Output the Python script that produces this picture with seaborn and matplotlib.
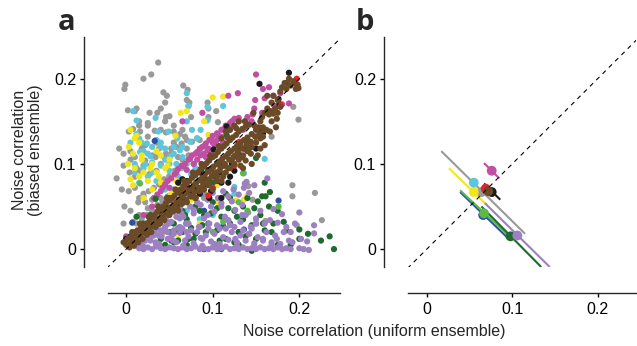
import numpy as np
import pandas as pd
import seaborn as sns
import matplotlib.pyplot as plt

# colours of the recording groups
colors = {
    "gray": "#999999", "cyan": "#5ec6dc", "yellow": "#f2e61a", "magenta": "#c04ea2",
    "blue": "#2f4fa6", "dkgreen": "#1f6b2f", "ltgreen": "#5cb847", "purple": "#9c80c1",
    "black": "#1b1b1b", "red": "#e8222b", "brown": "#6b4a28",
}

# ---- panel a: pair-wise noise correlations (uniform x, biased y) ----
gray_x = [0.037, 0.029, 0.020, -0.001, -0.002, 0.066, 0.071, 0.043, 0.047, 0.070, 0.073, 0.072, 0.045, 0.040,
          0.036, 0.012, 0.010, 0.002, 0.027, 0.046, 0.050, 0.094, 0.095, 0.003, 0.008, 0.016, 0.025, 0.033,
          0.040, 0.046, 0.055, 0.062, 0.068, 0.070, -0.008, -0.003, 0.005, 0.010, 0.018, 0.022, 0.030, 0.038,
          0.044, 0.052, 0.060, 0.065, 0.072, 0.078, 0.085, -0.003, 0.004, 0.012, 0.020, 0.027, 0.035, 0.045,
          0.050, 0.058, -0.011, -0.005, 0.003, 0.010, 0.015, 0.020, 0.030, 0.040, 0.048, 0.055, 0.062, -0.002,
          0.005, 0.015, 0.025, 0.032, 0.038, -0.003, 0.008, 0.020, 0.030, 0.040, 0.168, 0.193, 0.199, 0.192,
          0.192, 0.218, 0.226, 0.197, 0.161, 0.146, 0.141, 0.141, 0.104, 0.106, 0.130, 0.110, 0.090, 0.150,
          0.015, 0.025, 0.035, 0.055, 0.064, 0.022, 0.030]
gray_y = [0.219, 0.205, 0.200, 0.193, 0.188, 0.192, 0.187, 0.184, 0.180, 0.175, 0.172, 0.168, 0.172, 0.165,
          0.160, 0.165, 0.162, 0.163, 0.160, 0.155, 0.156, 0.172, 0.165, 0.138, 0.141, 0.138, 0.132, 0.139,
          0.140, 0.137, 0.138, 0.135, 0.132, 0.128, 0.118, 0.112, 0.115, 0.108, 0.118, 0.122, 0.110, 0.118,
          0.108, 0.112, 0.108, 0.105, 0.110, 0.100, 0.115, 0.098, 0.090, 0.095, 0.098, 0.088, 0.092, 0.080,
          0.085, 0.092, 0.083, 0.070, 0.068, 0.072, 0.060, 0.065, 0.058, 0.060, 0.062, 0.070, 0.078, 0.050,
          0.045, 0.040, 0.048, 0.042, 0.050, 0.030, 0.032, 0.025, 0.030, 0.035, 0.132, 0.167, 0.152, 0.075,
          0.062, 0.066, 0.034, 0.028, 0.033, 0.058, 0.043, 0.074, 0.162, 0.149, 0.120, 0.130, 0.060, 0.035,
          0.150, 0.145, 0.125, 0.125, 0.120, 0.055, 0.020]
gray2_x = [0.012, 0.018, 0.024, 0.030, 0.036, 0.042, 0.048, 0.054, 0.014, 0.020, 0.026, 0.032, 0.038, 0.044,
           0.050, 0.056, 0.062, 0.010, 0.016, 0.022, 0.028, 0.034, 0.040, 0.046, 0.052, 0.058, 0.064, 0.070,
           0.076, 0.082, 0.005, 0.025, 0.045, 0.065, 0.085, 0.015, 0.035, 0.055, 0.075, 0.095]
gray2_y = [0.030, 0.036, 0.040, 0.045, 0.052, 0.056, 0.060, 0.066, 0.055, 0.062, 0.068, 0.072, 0.076, 0.082,
           0.086, 0.092, 0.096, 0.085, 0.092, 0.104, 0.098, 0.108, 0.100, 0.112, 0.118, 0.120, 0.124, 0.118,
           0.126, 0.130, 0.105, 0.148, 0.150, 0.140, 0.128, 0.145, 0.128, 0.145, 0.155, 0.155]

cyan_x = [0.008, 0.012, 0.012, 0.018, 0.034, 0.037, 0.049, 0.070, 0.072, 0.070, 0.086, 0.094, 0.094, 0.059,
          0.074, 0.024, 0.045, 0.062, 0.016, 0.028, 0.051, 0.008, 0.010, 0.020, 0.030, 0.040, 0.050, 0.058,
          0.065, 0.025, 0.035, 0.045, 0.055, 0.062, 0.070, 0.075, 0.080, 0.015, 0.160, 0.136, 0.125, 0.125,
          0.112, 0.085, 0.100, 0.050, 0.040, 0.030, 0.022, 0.055, 0.065]
cyan_y = [0.162, 0.151, 0.135, 0.125, 0.154, 0.138, 0.138, 0.183, 0.168, 0.150, 0.140, 0.167, 0.151, 0.130,
          0.126, 0.124, 0.118, 0.116, 0.114, 0.109, 0.109, 0.111, 0.100, 0.095, 0.102, 0.098, 0.092, 0.100,
          0.095, 0.085, 0.080, 0.070, 0.060, 0.050, 0.045, 0.088, 0.082, 0.078, 0.106, 0.089, 0.073, 0.065,
          0.168, 0.035, 0.040, 0.030, 0.125, 0.120, 0.100, 0.112, 0.120]
cyan2_x = [0.005, 0.015, 0.025, 0.035, 0.045, 0.055, 0.065, 0.010, 0.020, 0.030, 0.040, 0.050, 0.060, 0.070,
           0.080, 0.090, 0.100, 0.082, 0.076]
cyan2_y = [0.125, 0.130, 0.112, 0.128, 0.105, 0.120, 0.108, 0.090, 0.115, 0.090, 0.120, 0.100, 0.085, 0.100,
           0.095, 0.090, 0.085, 0.130, 0.140]

yellow_x = [0.005, 0.012, 0.003, 0.008, 0.002, 0.010, 0.015, 0.005, 0.020, 0.025, 0.030, 0.035, 0.040, 0.045,
            0.050, 0.055, 0.060, 0.065, 0.070, 0.063, 0.100, 0.105, 0.085, 0.080, 0.090, 0.095, 0.020, 0.030,
            0.040, 0.018, 0.010, 0.057, 0.075, 0.112, 0.127, 0.140, 0.136, 0.106, 0.045, 0.060, 0.085]
yellow_y = [0.140, 0.133, 0.120, 0.112, 0.100, 0.095, 0.085, 0.082, 0.090, 0.080, 0.100, 0.090, 0.078, 0.095,
            0.105, 0.088, 0.070, 0.080, 0.162, 0.160, 0.178, 0.075, 0.065, 0.060, 0.150, 0.134, 0.060, 0.070,
            0.110, 0.105, 0.130, 0.133, 0.058, 0.179, 0.057, 0.063, 0.058, 0.055, 0.020, 0.012, 0.030]
yellow2_x = [0.008, 0.018, 0.028, 0.038, 0.048, 0.058, 0.068, 0.078, 0.015, 0.035, 0.052, 0.072, 0.090]
yellow2_y = [0.075, 0.110, 0.095, 0.085, 0.098, 0.080, 0.095, 0.072, 0.125, 0.115, 0.065, 0.105, 0.085]

magenta_x = [0.150, 0.129, 0.158, 0.165, 0.178, 0.149, 0.188, 0.172, 0.157, 0.148, 0.140, 0.130, 0.125, 0.120,
             0.115, 0.110, 0.105, 0.100, 0.096, 0.092, 0.088, 0.085, 0.080, 0.076, 0.072, 0.068, 0.064, 0.060,
             0.056, 0.052, 0.048, 0.045, 0.042, 0.040, 0.036, 0.032, 0.100, 0.105, 0.110, 0.118, 0.123, 0.095,
             0.090, 0.082, 0.070, 0.050, 0.030, 0.020, 0.010, 0.000, 0.135, 0.145, 0.165, 0.170, 0.180, 0.160,
             0.118, 0.088, 0.065, 0.112, 0.108, 0.098, 0.092]
magenta_y = [0.205, 0.183, 0.188, 0.190, 0.183, 0.175, 0.171, 0.168, 0.160, 0.165, 0.155, 0.150, 0.153, 0.148,
             0.145, 0.140, 0.136, 0.133, 0.128, 0.124, 0.120, 0.118, 0.112, 0.110, 0.105, 0.100, 0.098, 0.094,
             0.088, 0.083, 0.080, 0.076, 0.072, 0.068, 0.064, 0.060, 0.125, 0.128, 0.132, 0.140, 0.145, 0.118,
             0.112, 0.105, 0.093, 0.072, 0.050, 0.040, 0.020, 0.015, 0.140, 0.150, 0.160, 0.180, 0.170, 0.177,
             0.180, 0.160, 0.150, 0.125, 0.120, 0.112, 0.108]
magenta2_x = [0.058, 0.066, 0.074, 0.082, 0.090, 0.098, 0.106, 0.114, 0.122, 0.130, 0.138, 0.146, 0.078, 0.086,
              0.094, 0.102]
magenta2_y = [0.090, 0.097, 0.106, 0.114, 0.121, 0.128, 0.134, 0.142, 0.150, 0.154, 0.150, 0.158, 0.100, 0.110,
              0.116, 0.122]

blue_x = [0.033, 0.007, 0.176, 0.136, 0.112, 0.070, 0.090, 0.130]
blue_y = [0.127, 0.031, 0.057, 0.023, 0.027, 0.070, 0.045, 0.020]

dkgreen_x = [0.034, 0.045, 0.030, 0.025, 0.040, 0.050, 0.055, 0.060, 0.070, 0.075, 0.080, 0.085, 0.090, 0.095,
             0.100, 0.105, 0.110, 0.115, 0.120, 0.125, 0.130, 0.135, 0.140, 0.145, 0.150, 0.155, 0.160, 0.165,
             0.170, 0.175, 0.185, 0.190, 0.200, 0.210, 0.240, 0.157, 0.152, 0.166, 0.161, 0.120, 0.115, 0.100,
             0.093, 0.150, 0.116, 0.160, 0.065, 0.060, 0.050, 0.040, 0.035, 0.012, 0.020, 0.070, 0.090, 0.110,
             0.130, 0.145, 0.080, 0.105, 0.125, 0.135, 0.182, 0.200, 0.225, 0.235, 0.175, 0.065, 0.055, 0.045]
dkgreen_y = [0.059, 0.043, 0.025, 0.015, 0.012, 0.020, 0.030, 0.010, 0.035, 0.025, 0.018, 0.045, 0.040, 0.030,
             0.055, 0.022, 0.038, 0.012, 0.030, 0.045, 0.020, 0.035, 0.060, 0.028, 0.012, 0.040, 0.022, 0.050,
             0.030, 0.005, 0.022, 0.005, 0.012, 0.018, 0.000, 0.062, 0.056, 0.067, 0.062, 0.060, 0.065, 0.078,
             0.080, 0.107, 0.134, 0.078, 0.045, 0.055, 0.060, 0.035, 0.005, 0.038, 0.030, 0.005, 0.000, 0.000,
             0.005, -0.002, 0.050, 0.048, 0.008, 0.050, 0.032, 0.023, 0.010, 0.015, 0.045, 0.020, 0.008, 0.005]
dkgreen2_x = [0.028, 0.038, 0.048, 0.058, 0.068, 0.078, 0.088, 0.098, 0.108, 0.118, 0.128, 0.138, 0.148, 0.158,
              0.168, 0.052, 0.072, 0.092]
dkgreen2_y = [0.040, 0.030, 0.048, 0.022, 0.040, 0.012, 0.028, 0.042, 0.010, 0.048, 0.038, 0.015, 0.048, 0.030,
              0.020, 0.010, 0.012, 0.020]

ltgreen_x = [0.016, 0.090, 0.112, 0.130, 0.176, 0.150, 0.070, 0.100, 0.135, 0.140]
ltgreen_y = [0.077, 0.065, 0.032, 0.055, 0.050, 0.030, 0.030, 0.020, 0.089, 0.045]

purple_x = [0.015, 0.020, 0.025, 0.030, 0.035, 0.040, 0.045, 0.050, 0.055, 0.060, 0.065, 0.070, 0.075, 0.080,
            0.085, 0.090, 0.095, 0.100, 0.105, 0.110, 0.115, 0.120, 0.125, 0.130, 0.135, 0.140, 0.145, 0.150,
            0.155, 0.160, 0.165, 0.170, 0.175, 0.180, 0.185, 0.190, 0.200, 0.205, 0.211,
            0.018, 0.028, 0.038, 0.048, 0.058, 0.068, 0.078, 0.088, 0.098, 0.108, 0.118, 0.128, 0.138, 0.148,
            0.158, 0.168, 0.178, 0.188, 0.209, 0.012, 0.022, 0.032, 0.042, 0.052, 0.062, 0.072, 0.082, 0.092,
            0.102, 0.112, 0.122, 0.132, 0.142, 0.152, 0.162, 0.172,
            0.030, 0.036, 0.042, 0.048, 0.054, 0.060, 0.066, 0.072, 0.078, 0.084, 0.090, 0.096, 0.102, 0.108,
            0.114, 0.120, 0.126, 0.132, 0.138, 0.144, 0.150, 0.155, 0.170, 0.180, 0.190, 0.200, 0.217, 0.217,
            0.163, 0.139, 0.137, 0.040, 0.046, 0.052, 0.058, 0.064, 0.070, 0.076, 0.082, 0.088, 0.094, 0.100,
            0.106, 0.112, 0.118, 0.124, 0.130, 0.136, 0.142, 0.148, 0.025, 0.035, 0.045, 0.055, 0.065, 0.075,
            0.085, 0.095, 0.105, 0.115, 0.125, 0.135, 0.145, 0.160, 0.175, 0.185, 0.195, 0.050, 0.062, 0.074,
            0.086, 0.098, 0.110, 0.122, 0.134]
purple_y = [0.001, 0.000, 0.002, 0.000, 0.003, 0.001, 0.000, 0.002, 0.001, 0.000, 0.002, 0.000, 0.001, 0.003,
            0.000, 0.001, 0.000, 0.002, 0.000, 0.001, 0.003, 0.000, 0.001, 0.000, 0.002, 0.000, 0.001, 0.000,
            0.002, 0.000, 0.001, 0.000, 0.002, 0.000, 0.001, 0.000, 0.001, 0.000, -0.001,
            0.008, 0.010, 0.006, 0.012, 0.008, 0.010, 0.007, 0.012, 0.009, 0.006, 0.011, 0.008, 0.010, 0.007,
            0.012, 0.008, 0.006, 0.010, 0.009, 0.015, 0.018, 0.016, 0.020, 0.014, 0.019, 0.015, 0.020, 0.016,
            0.018, 0.014, 0.020, 0.016, 0.018, 0.014, 0.020, 0.016,
            0.035, 0.028, 0.040, 0.030, 0.045, 0.025, 0.038, 0.030, 0.042, 0.026, 0.036, 0.030, 0.044, 0.024,
            0.038, 0.028, 0.046, 0.032, 0.040, 0.026, 0.036, 0.045, 0.047, 0.041, 0.020, 0.043, 0.028, 0.0185,
            0.083, 0.079, 0.077, 0.050, 0.055, 0.058, 0.052, 0.060, 0.056, 0.062, 0.055, 0.064, 0.058, 0.066,
            0.060, 0.068, 0.062, 0.070, 0.064, 0.072, 0.066, 0.075, 0.022, 0.024, 0.026, 0.022, 0.024, 0.022,
            0.026, 0.024, 0.028, 0.024, 0.026, 0.022, 0.024, 0.030, 0.031, 0.026, 0.030, 0.045, 0.048, 0.050,
            0.052, 0.050, 0.054, 0.056, 0.052]
purple2_x = [0.010, 0.016, 0.022, 0.028, 0.034, 0.040, 0.046, 0.052, 0.058, 0.064, 0.020, 0.027, 0.034, 0.041,
             0.048, 0.055, 0.062, 0.069, 0.030, 0.038, 0.046, 0.054, 0.062, 0.070, 0.078, 0.086, 0.094, 0.102,
             0.110, 0.118, 0.126, 0.134, 0.142, 0.150, 0.158, 0.166, 0.174, 0.182, 0.192, 0.202, 0.018, 0.044,
             0.066, 0.088, 0.108, 0.128, 0.148, 0.168]
purple2_y = [0.004, 0.006, 0.010, 0.013, 0.018, 0.022, 0.028, 0.032, 0.038, 0.042, 0.003, 0.012, 0.008, 0.015,
             0.020, 0.018, 0.026, 0.030, 0.020, 0.016, 0.034, 0.010, 0.036, 0.020, 0.046, 0.013, 0.040, 0.006,
             0.050, 0.034, 0.012, 0.040, 0.018, 0.030, 0.010, 0.034, 0.012, 0.020, 0.008, 0.012, 0.022, 0.040,
             0.004, 0.004, 0.003, 0.004, 0.004, 0.005]

black_x = [0.188, 0.154, 0.176, 0.177, 0.158, 0.155, 0.150, 0.116, 0.101, 0.136, 0.139, 0.102, 0.105, 0.110,
           0.118, 0.120, 0.125, 0.095, 0.088, 0.090, 0.070, 0.065, 0.060, 0.066, 0.064, 0.058, 0.052, 0.080,
           0.085, 0.075, 0.098, 0.110, 0.128, 0.130, 0.140, 0.000, 0.005, 0.010, 0.045, 0.040,
           0.072, 0.082, 0.092, 0.112, 0.122, 0.132, 0.096, 0.086, 0.062, 0.108]
black_y = [0.207, 0.194, 0.176, 0.170, 0.136, 0.142, 0.118, 0.144, 0.117, 0.118, 0.118, 0.086, 0.080, 0.078,
           0.078, 0.085, 0.092, 0.093, 0.088, 0.075, 0.080, 0.082, 0.078, 0.070, 0.056, 0.052, 0.048, 0.060,
           0.065, 0.065, 0.068, 0.060, 0.118, 0.125, 0.120, 0.012, 0.015, 0.008, 0.050, 0.043,
           0.072, 0.070, 0.082, 0.098, 0.100, 0.110, 0.060, 0.092, 0.066, 0.090]

red_x = [0.197, 0.179, 0.165, 0.151, 0.131, 0.130, 0.100, 0.095, 0.068, 0.125]
red_y = [0.200, 0.169, 0.159, 0.142, 0.126, 0.106, 0.072, 0.063, 0.070, 0.098]

brown_x = [-0.003, 0.000, 0.002, 0.005, 0.006, 0.008, 0.010, 0.012, 0.013, 0.015, 0.017, 0.018, 0.020, 0.022,
           0.023, 0.025, 0.027, 0.028, 0.030, 0.031, 0.033, 0.035, 0.036, 0.038, 0.040, 0.041, 0.043, 0.045,
           0.046, 0.048, 0.050, 0.051, 0.053, 0.055, 0.056, 0.058, 0.060, 0.061, 0.063, 0.065, 0.066, 0.068,
           0.070, 0.071, 0.073, 0.075, 0.076, 0.078, 0.080, 0.081, 0.083, 0.085, 0.086, 0.088, 0.090, 0.091,
           0.093, 0.095, 0.096, 0.098, 0.100, 0.101, 0.103, 0.105, 0.106, 0.108, 0.110, 0.111, 0.113, 0.115,
           0.116, 0.118, 0.120, 0.121, 0.123, 0.125, 0.127, 0.128, 0.130, 0.132, 0.134, 0.136, 0.138, 0.140,
           0.142, 0.145, 0.148, 0.150, 0.153, 0.155, 0.158, 0.160, 0.163, 0.165, 0.168, 0.170, 0.172, 0.175,
           0.178, 0.180, 0.183, 0.185, 0.188, 0.190, 0.193, 0.196, 0.198,
           0.110, 0.115, 0.120, 0.125, 0.130, 0.105, 0.095, 0.100, 0.140, 0.135, 0.145, 0.150, 0.155, 0.125,
           0.130, 0.120, 0.110, 0.115, 0.090, 0.085, 0.080, 0.070, 0.060, 0.050, 0.150, 0.158, 0.162, 0.160,
           0.145, 0.152, 0.175, 0.168, 0.163, 0.135, 0.140, 0.174, 0.170, 0.178, 0.186, 0.199, 0.197, 0.166,
           0.155, 0.173, 0.038, 0.043, 0.055, 0.065, 0.075, 0.088]
brown_y = [0.008, 0.005, 0.012, 0.006, 0.015, 0.010, 0.018, 0.012, 0.022, 0.016, 0.025, 0.019, 0.028, 0.021,
           0.030, 0.024, 0.033, 0.027, 0.037, 0.029, 0.040, 0.033, 0.044, 0.036, 0.047, 0.039, 0.050, 0.042,
           0.054, 0.046, 0.057, 0.049, 0.060, 0.052, 0.063, 0.055, 0.067, 0.058, 0.070, 0.062, 0.074, 0.065,
           0.077, 0.068, 0.080, 0.071, 0.084, 0.075, 0.087, 0.078, 0.090, 0.081, 0.094, 0.084, 0.097, 0.088,
           0.101, 0.091, 0.104, 0.094, 0.108, 0.097, 0.110, 0.100, 0.114, 0.103, 0.118, 0.106, 0.121, 0.109,
           0.124, 0.112, 0.128, 0.115, 0.131, 0.118, 0.134, 0.121, 0.138, 0.124, 0.141, 0.128, 0.144, 0.131,
           0.146, 0.135, 0.145, 0.140, 0.143, 0.150, 0.143, 0.160, 0.165, 0.158, 0.172, 0.180, 0.165, 0.175,
           0.185, 0.190, 0.195, 0.188, 0.200, 0.192, 0.197, 0.188, 0.193,
           0.080, 0.090, 0.095, 0.100, 0.105, 0.085, 0.075, 0.070, 0.115, 0.110, 0.120, 0.125, 0.118, 0.145,
           0.150, 0.140, 0.130, 0.138, 0.070, 0.068, 0.060, 0.055, 0.045, 0.040, 0.132, 0.132, 0.140, 0.122,
           0.100, 0.110, 0.160, 0.150, 0.180, 0.095, 0.128, 0.153, 0.159, 0.167, 0.195, 0.189, 0.193, 0.138,
           0.130, 0.143, 0.030, 0.036, 0.045, 0.054, 0.062, 0.073]
brown2_x = [0.004, 0.009, 0.014, 0.019, 0.024, 0.029, 0.034, 0.039, 0.044, 0.049, 0.054, 0.059, 0.064, 0.069,
            0.074, 0.079, 0.084, 0.089, 0.094, 0.099, 0.104, 0.109, 0.114, 0.119, 0.124, 0.129, 0.134, 0.139,
            0.144, 0.149, 0.154, 0.159, 0.007, 0.016, 0.026, 0.037, 0.047, 0.057, 0.067, 0.077, 0.087, 0.097,
            0.107, 0.117, 0.127, 0.137, 0.147, 0.157, 0.167, 0.102, 0.108, 0.114, 0.122, 0.128, 0.134, 0.142,
            0.112, 0.118, 0.126, 0.132, 0.138, 0.144, 0.096, 0.092, 0.104]
brown2_y = [0.002, 0.004, 0.008, 0.012, 0.017, 0.020, 0.026, 0.030, 0.034, 0.040, 0.044, 0.048, 0.053, 0.058,
            0.062, 0.067, 0.072, 0.077, 0.081, 0.086, 0.090, 0.096, 0.100, 0.105, 0.108, 0.114, 0.118, 0.122,
            0.126, 0.132, 0.136, 0.140, 0.020, 0.030, 0.038, 0.050, 0.060, 0.070, 0.080, 0.090, 0.100, 0.110,
            0.121, 0.131, 0.142, 0.150, 0.160, 0.155, 0.162, 0.090, 0.092, 0.098, 0.104, 0.110, 0.108, 0.118,
            0.085, 0.095, 0.110, 0.098, 0.104, 0.112, 0.082, 0.078, 0.080]

# ---- panel b: group means with error bars along the anti-diagonal ----
grp_names = ["gray", "yellow", "magenta", "black", "red", "blue", "ltgreen", "dkgreen", "purple", "cyan", "brown"]
grp_x = [0.064, 0.055, 0.076, 0.076, 0.069, 0.066, 0.067, 0.098, 0.106, 0.055, 0.072]
grp_y = [0.067, 0.067, 0.092, 0.067, 0.071, 0.040, 0.042, 0.015, 0.016, 0.078, 0.068]
err_x0 = [0.017, 0.026, 0.067, 0.067, 0.066, 0.039, 0.039, 0.064, 0.068, 0.052, 0.066]
err_y0 = [0.115, 0.095, 0.101, 0.077, 0.074, 0.067, 0.069, 0.050, 0.054, 0.081, 0.074]
err_x1 = [0.115, 0.070, 0.085, 0.086, 0.072, 0.096, 0.097, 0.134, 0.144, 0.058, 0.078]
err_y1 = [0.018, 0.052, 0.083, 0.058, 0.068, 0.012, 0.0145, -0.021, -0.021, 0.075, 0.062]

order = ["gray", "cyan", "yellow", "magenta", "blue", "dkgreen", "ltgreen", "purple", "black", "red", "brown"]
groups = {
    "gray": (gray_x + gray2_x, gray_y + gray2_y),
    "cyan": (cyan_x + cyan2_x, cyan_y + cyan2_y),
    "yellow": (yellow_x + yellow2_x, yellow_y + yellow2_y),
    "magenta": (magenta_x + magenta2_x, magenta_y + magenta2_y),
    "blue": (blue_x, blue_y),
    "dkgreen": (dkgreen_x + dkgreen2_x, dkgreen_y + dkgreen2_y),
    "ltgreen": (ltgreen_x, ltgreen_y),
    "purple": (purple_x + purple2_x, purple_y + purple2_y),
    "black": (black_x, black_y),
    "red": (red_x, red_y),
    "brown": (brown_x + brown2_x, brown_y + brown2_y),
}
df = pd.concat([pd.DataFrame({"uniform": groups[g][0], "biased": groups[g][1], "group": g}) for g in order],
               ignore_index=True)
means = pd.DataFrame({"uniform": grp_x, "biased": grp_y, "group": grp_names})

sns.set_style("ticks")
plt.rcParams["font.family"] = ["Liberation Sans", "DejaVu Sans"]
plt.rcParams["font.size"] = 11

fig = plt.figure(figsize=(6.37, 3.46), dpi=100)
ax_a = fig.add_axes([0.1695, 0.2283, 0.3643, 0.6648])
ax_b = fig.add_axes([0.6405, 0.2283, 0.3580, 0.6648])

sns.scatterplot(data=df, x="uniform", y="biased", hue="group", palette=colors, s=20,
                linewidth=0, legend=False, ax=ax_a)

for i in range(len(grp_names)):
    ax_b.plot([err_x0[i], err_x1[i]], [err_y0[i], err_y1[i]], color=colors[grp_names[i]], lw=1.5,
              solid_capstyle="butt")
sns.scatterplot(data=means, x="uniform", y="biased", hue="group", palette=colors, s=50,
                linewidth=0, legend=False, ax=ax_b, zorder=3)

for ax in (ax_a, ax_b):
    ax.plot([-0.03, 0.26], [-0.03, 0.26], color="black", lw=0.8, ls=(0, (4, 4)), zorder=4)
    ax.set_xlim(-0.021, 0.247)
    ax.set_ylim(-0.021, 0.249)
    ax.set_xticks([0, 0.1, 0.2])
    ax.set_xticklabels(["0", "0.1", "0.2"])
    ax.set_yticks([0, 0.1, 0.2])
    ax.set_yticklabels(["0", "0.1", "0.2"])
    ax.set_xlabel("")
    ax.set_ylabel("")
    ax.spines["top"].set_visible(False)
    ax.spines["right"].set_visible(False)
    ax.spines["left"].set_position(("outward", 17))
    ax.spines["bottom"].set_position(("outward", 19))
    ax.spines["left"].set_linewidth(1.0)
    ax.spines["bottom"].set_linewidth(1.0)
    ax.tick_params(length=3, width=1.0, labelsize=11.5, colors="black", pad=3)
ax_b.set_xlim(-0.022, 0.245)

fig.text(0.587, 0.043, "Noise correlation (uniform ensemble)", ha="center", va="center", fontsize=11.5)
fig.text(0.043, 0.566, "Noise correlation\n(biased ensemble)", ha="center", va="center",
         rotation=90, fontsize=11.5, linespacing=1.05)
fig.text(0.104, 0.935, "a", ha="center", va="center", fontsize=21, fontweight="bold",
         family=["Open Sans", "DejaVu Sans"])
fig.text(0.573, 0.935, "b", ha="center", va="center", fontsize=21, fontweight="bold",
         family=["Open Sans", "DejaVu Sans"])

fig.savefig("out.png", dpi=100)
